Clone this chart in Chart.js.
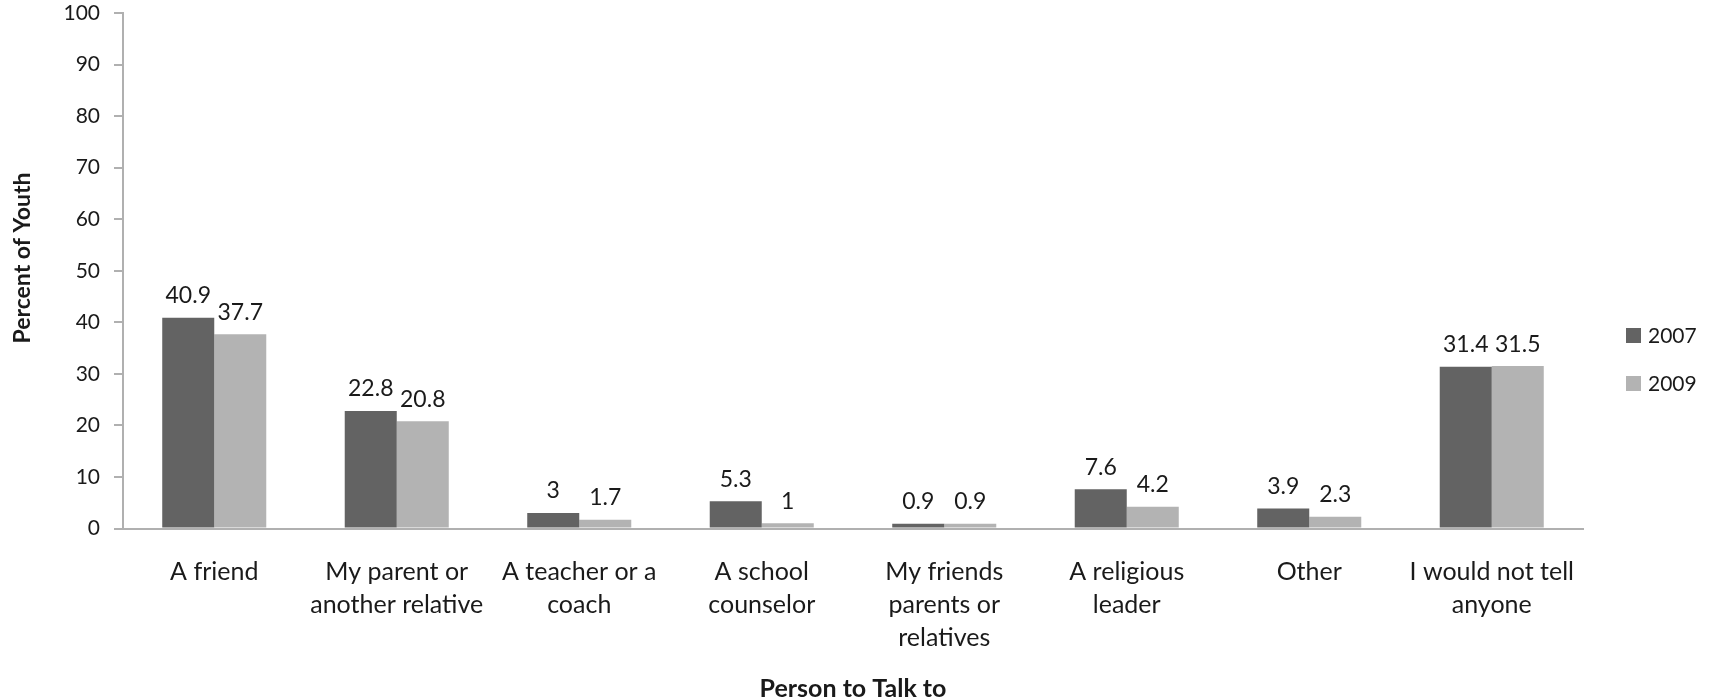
<!DOCTYPE html>
<html>
<head>
<meta charset="utf-8">
<script src="https://cdn.jsdelivr.net/npm/chart.js@4.4.1/dist/chart.umd.min.js"></script>
<style>
  html, body { margin: 0; padding: 0; background: #fff; }
  #wrap { width: 1719px; height: 700px; }
</style>
</head>
<body>
<div id="wrap"><canvas id="chart" width="1719" height="700"></canvas></div>
<script>
const categories = [
  ['A friend'],
  ['My parent or', 'another relative'],
  ['A teacher or a', 'coach'],
  ['A school', 'counselor'],
  ['My friends', 'parents or', 'relatives'],
  ['A religious', 'leader'],
  ['Other'],
  ['I would not tell', 'anyone'],
];
const values2007 = [40.9, 22.8, 3, 5.3, 0.9, 7.6, 3.9, 31.4];
const values2009 = [37.7, 20.8, 1.7, 1, 0.9, 4.2, 2.3, 31.5];
const seriesNames = ['2007', '2009'];
const seriesColors = ['#636363', '#b3b3b3'];
const yTicks = { min: 0, max: 100, step: 10 };
const yTitle = 'Percent of Youth';
const xTitle = 'Person to Talk to';

const FONT = 'Lato, "Open Sans", sans-serif';
const textColor = '#1a1a1a';
const axisColor = '#b0b0b0';

// value labels above each bar
const valueLabels = {
  id: 'valueLabels',
  afterDatasetsDraw(chart) {
    const { ctx } = chart;
    ctx.save();
    ctx.font = `23px ${FONT}`;
    ctx.fillStyle = textColor;
    ctx.textAlign = 'center';
    ctx.textBaseline = 'middle';
    chart.data.datasets.forEach((ds, i) => {
      chart.getDatasetMeta(i).data.forEach((bar, j) => {
        ctx.fillText(String(ds.data[j]), bar.x, bar.y - 22);
      });
    });
    ctx.restore();
  },
};

// legend on the right + y title (Excel puts it a bit above centre)
const extras = {
  id: 'extras',
  afterDraw(chart) {
    const { ctx } = chart;
    ctx.save();
    ctx.font = `21px ${FONT}`;
    ctx.textBaseline = 'middle';
    ctx.textAlign = 'left';
    chart.data.datasets.forEach((ds, i) => {
      const y = 328 + i * 48;
      ctx.fillStyle = ds.backgroundColor;
      ctx.fillRect(1626, y, 15, 15);
      ctx.fillStyle = textColor;
      ctx.fillText(ds.label, 1648, y + 8);
    });

    ctx.translate(23, 258);
    ctx.rotate(-Math.PI / 2);
    ctx.font = `bold 23px ${FONT}`;
    ctx.textAlign = 'center';
    ctx.fillText(yTitle, 0, 0);
    ctx.restore();
  },
};

new Chart(document.getElementById('chart'), {
  type: 'bar',
  data: {
    labels: categories,
    datasets: [
      { label: seriesNames[0], data: values2007, backgroundColor: seriesColors[0] },
      { label: seriesNames[1], data: values2009, backgroundColor: seriesColors[1] },
    ],
  },
  options: {
    responsive: false,
    animation: false,
    layout: { padding: { top: 13, right: 136, bottom: 0, left: 0 } },
    datasets: { bar: { categoryPercentage: 0.57, barPercentage: 1 } },
    plugins: { legend: { display: false }, tooltip: { enabled: false } },
    scales: {
      x: {
        grid: { display: false },
        border: { display: true, color: axisColor, width: 2 },
        ticks: { color: textColor, padding: 19, maxRotation: 0, autoSkip: false,
                 font: { family: FONT, size: 25, lineHeight: 1.32 } },
        title: { display: true, text: xTitle, color: textColor,
                 font: { family: FONT, size: 25, weight: 'bold' }, padding: { top: 0, bottom: -4 } },
        afterFit(scale) { scale.height = 171.5; },
      },
      y: {
        min: yTicks.min,
        max: yTicks.max,
        ticks: { stepSize: yTicks.step, color: textColor, padding: 14,
                 font: { family: FONT, size: 21 } },
        grid: { drawOnChartArea: false, drawTicks: true, tickLength: 9, color: axisColor, lineWidth: 2 },
        border: { display: true, color: axisColor, width: 2 },
        afterFit(scale) {
          scale.width = 123;
          scale.paddingTop = 0;
          scale.paddingBottom = 0;
        },
      },
    },
  },
  plugins: [valueLabels, extras],
});
</script>
</body>
</html>
